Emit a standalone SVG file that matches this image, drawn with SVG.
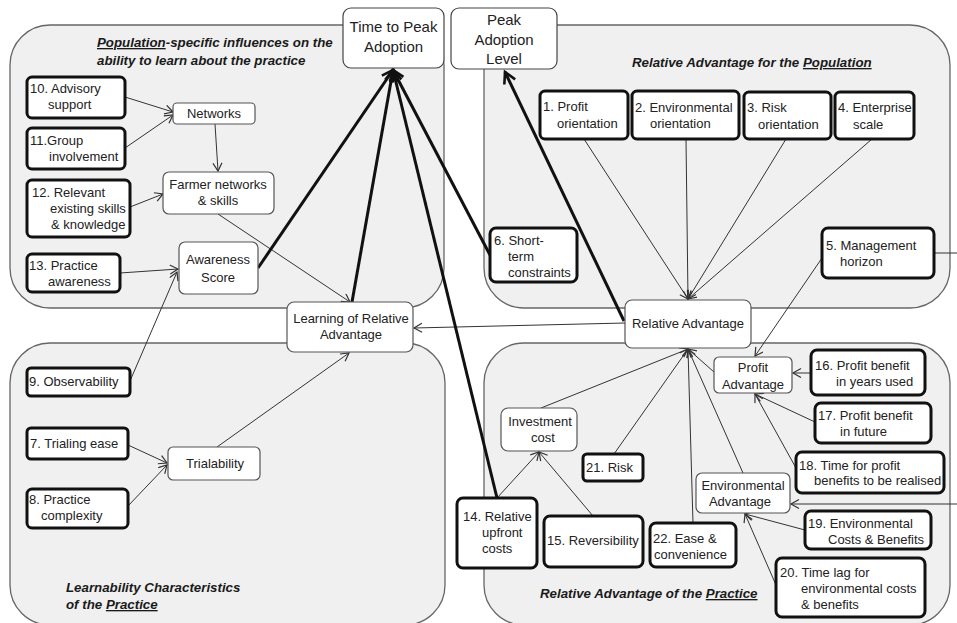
<svg xmlns="http://www.w3.org/2000/svg" width="957" height="623" viewBox="0 0 957 623">
<defs>
<style>
.panel{fill:#f0f0f0;stroke:#666;stroke-width:1.3}
.thin rect{fill:#fff;stroke:#555;stroke-width:1.2}
.bold rect{fill:#fff;stroke:#111;stroke-width:3}
.title rect{fill:#fff;stroke:#444;stroke-width:1.2}
text{font-family:"Liberation Sans",Arial,sans-serif;font-size:13px;fill:#222}
.c{text-anchor:middle}
.t{font-size:15px}
.h{font-weight:bold;font-style:italic;font-size:13.3px;fill:#1a1a1a}
.u{text-decoration:underline}
.ln{stroke:#333;stroke-width:1;fill:none}
.tk{stroke:#111;stroke-width:3;fill:none}
</style>
<marker id="a" markerUnits="userSpaceOnUse" markerWidth="12" markerHeight="12" refX="9" refY="5" orient="auto">
<path d="M1,0.5 L9,5 L1,9.5" fill="none" stroke="#333" stroke-width="1.2"/>
</marker>
<marker id="b" markerUnits="userSpaceOnUse" markerWidth="16" markerHeight="16" refX="12" refY="7" orient="auto">
<path d="M1,1 L12,7 L1,13" fill="none" stroke="#111" stroke-width="2.6"/>
</marker>
</defs>
<rect width="957" height="623" fill="#fff"/>
<g id="panels">
<rect class="panel" x="10" y="25" width="434" height="283" rx="40"/>
<rect class="panel" x="484" y="25" width="466" height="283" rx="40"/>
<rect class="panel" x="10" y="343" width="435" height="282" rx="40"/>
<rect class="panel" x="484" y="343" width="466" height="282" rx="40"/>
<text class="h" x="97" y="47"><tspan class="u">Population</tspan>-specific influences on the</text>
<text class="h" x="97" y="65">ability to learn about the practice</text>
<text class="h" x="632" y="67">Relative Advantage for the <tspan class="u">Population</tspan></text>
<text class="h" x="66" y="592">Learnability Characteristics</text>
<text class="h" x="66" y="609">of the <tspan class="u">Practice</tspan></text>
<text class="h" x="540" y="598">Relative Advantage of the <tspan class="u">Practice</tspan></text>
</g>
<g id="connectors">
<line class="ln" x1="125" y1="97" x2="173" y2="112" marker-end="url(#a)"/>
<line class="ln" x1="125" y1="148" x2="173" y2="115" marker-end="url(#a)"/>
<line class="ln" x1="215" y1="124" x2="218" y2="171" marker-end="url(#a)"/>
<line class="ln" x1="130" y1="207" x2="163" y2="194" marker-end="url(#a)"/>
<line class="ln" x1="120" y1="273" x2="178" y2="269" marker-end="url(#a)"/>
<line class="ln" x1="130" y1="381" x2="177" y2="272" marker-end="url(#a)"/>
<line class="ln" x1="218" y1="214" x2="350" y2="302" marker-end="url(#a)"/>
<line class="ln" x1="217" y1="447" x2="349" y2="353" marker-end="url(#a)"/>
<line class="ln" x1="128" y1="445" x2="167" y2="463" marker-end="url(#a)"/>
<line class="ln" x1="128" y1="506" x2="167" y2="465" marker-end="url(#a)"/>
<line class="ln" x1="625" y1="323" x2="414" y2="328" marker-end="url(#a)"/>
<line class="ln" x1="584" y1="139" x2="688" y2="299" marker-end="url(#a)"/>
<line class="ln" x1="686" y1="139" x2="688" y2="299" marker-end="url(#a)"/>
<line class="ln" x1="786" y1="139" x2="688" y2="299" marker-end="url(#a)"/>
<line class="ln" x1="872" y1="139" x2="688" y2="299" marker-end="url(#a)"/>
<line class="ln" x1="822" y1="258" x2="755" y2="356" marker-end="url(#a)"/>
<line class="ln" x1="934" y1="253" x2="957" y2="253"/>
<line class="ln" x1="714" y1="372" x2="688" y2="349" marker-end="url(#a)"/>
<line class="ln" x1="541" y1="408" x2="688" y2="349" marker-end="url(#a)"/>
<line class="ln" x1="614" y1="454" x2="688" y2="349" marker-end="url(#a)"/>
<line class="ln" x1="693" y1="523" x2="688" y2="349" marker-end="url(#a)"/>
<line class="ln" x1="743" y1="473" x2="688" y2="349" marker-end="url(#a)"/>
<line class="ln" x1="811" y1="373" x2="793" y2="373" marker-end="url(#a)"/>
<line class="ln" x1="815" y1="422" x2="755" y2="394" marker-end="url(#a)"/>
<line class="ln" x1="796" y1="468" x2="755" y2="394" marker-end="url(#a)"/>
<line class="ln" x1="805" y1="530" x2="745" y2="514" marker-end="url(#a)"/>
<line class="ln" x1="776" y1="585" x2="745" y2="514" marker-end="url(#a)"/>
<line class="ln" x1="957" y1="504" x2="791" y2="504" marker-end="url(#a)"/>
<line class="ln" x1="497" y1="498" x2="539" y2="452" marker-end="url(#a)"/>
<line class="ln" x1="593" y1="516" x2="539" y2="452" marker-end="url(#a)"/>
<line class="tk" x1="258" y1="268" x2="393" y2="70" marker-end="url(#b)"/>
<line class="tk" x1="352" y1="302" x2="393" y2="70" marker-end="url(#b)"/>
<line class="tk" x1="497" y1="498" x2="393" y2="70" marker-end="url(#b)"/>
<line class="tk" x1="490" y1="255" x2="393" y2="70" marker-end="url(#b)"/>
<line class="tk" x1="624" y1="321" x2="505" y2="72" marker-end="url(#b)"/>
</g>
<g id="time-to-peak" class="title"><rect x="343" y="8" width="101" height="60" rx="8"/><text class="c t" x="393.5" y="32">Time to Peak</text><text class="c t" x="393.5" y="52">Adoption</text></g>
<g id="peak-level" class="title"><rect x="451" y="8" width="106" height="61" rx="8"/><text class="c t" x="504" y="25">Peak</text><text class="c t" x="504" y="45">Adoption</text><text class="c t" x="504" y="64">Level</text></g>
<g id="networks" class="thin"><rect x="173" y="103" width="82" height="21" rx="4"/><text class="c" x="214" y="118">Networks</text></g>
<g id="farmer" class="thin"><rect x="163" y="172" width="111" height="42" rx="6"/><text class="c" x="218" y="189">Farmer networks</text><text class="c" x="218" y="205">&amp; skills</text></g>
<g id="awareness" class="thin"><rect x="179" y="242" width="79" height="52" rx="6"/><text class="c" x="218" y="264">Awareness</text><text class="c" x="218" y="282">Score</text></g>
<g id="learning" class="thin"><rect x="287" y="302" width="126" height="50" rx="7"/><text class="c" x="351" y="323">Learning of Relative</text><text class="c" x="351" y="339">Advantage</text></g>
<g id="trialability" class="thin"><rect x="168" y="447" width="92" height="33" rx="5"/><text class="c" x="215" y="468">Trialability</text></g>
<g id="relative-advantage" class="thin"><rect x="625" y="300" width="126" height="48" rx="7"/><text class="c" x="688" y="328">Relative Advantage</text></g>
<g id="profit-advantage" class="thin"><rect x="714" y="357" width="78" height="36" rx="5"/><text class="c" x="753" y="372">Profit</text><text class="c" x="753" y="389">Advantage</text></g>
<g id="env-advantage" class="thin"><rect x="696" y="473" width="94" height="40" rx="6"/><text class="c" x="743" y="490">Environmental</text><text class="c" x="740" y="506">Advantage</text></g>
<g id="investment" class="thin"><rect x="501" y="408" width="76" height="43" rx="7"/><text class="c" x="540" y="426">Investment</text><text class="c" x="543" y="442">cost</text></g>
<g id="n10" class="bold"><rect x="27" y="77" width="98" height="41" rx="5"/><text x="30" y="93">10. Advisory</text><text x="48" y="109">support</text></g>
<g id="n11" class="bold"><rect x="27" y="128" width="98" height="41" rx="5"/><text x="30" y="145">11.Group</text><text x="49" y="161">involvement</text></g>
<g id="n12" class="bold"><rect x="27" y="180" width="103" height="57" rx="5"/><text x="32" y="197">12. Relevant</text><text x="50" y="213">existing skills</text><text x="51" y="229">&amp; knowledge</text></g>
<g id="n13" class="bold"><rect x="27" y="254" width="93" height="38" rx="5"/><text x="29" y="270">13. Practice</text><text x="48" y="286">awareness</text></g>
<g id="n9" class="bold"><rect x="27" y="368" width="103" height="28" rx="4"/><text x="29" y="386">9. Observability</text></g>
<g id="n7" class="bold"><rect x="27" y="428" width="101" height="31" rx="4"/><text x="30" y="448">7. Trialing ease</text></g>
<g id="n8" class="bold"><rect x="27" y="489" width="101" height="39" rx="5"/><text x="29" y="504">8. Practice</text><text x="41" y="520">complexity</text></g>
<g id="n1" class="bold"><rect x="540" y="91" width="88" height="48" rx="5"/><text x="543" y="111">1. Profit</text><text x="557" y="128">orientation</text></g>
<g id="n2" class="bold"><rect x="632" y="91" width="107" height="48" rx="5"/><text x="635" y="112">2. Environmental</text><text x="650" y="128">orientation</text></g>
<g id="n3" class="bold"><rect x="744" y="92" width="87" height="47" rx="5"/><text x="747" y="112">3. Risk</text><text x="758" y="129">orientation</text></g>
<g id="n4" class="bold"><rect x="835" y="92" width="79" height="47" rx="5"/><text x="838" y="112">4. Enterprise</text><text x="853" y="129">scale</text></g>
<g id="n5" class="bold"><rect x="822" y="228" width="112" height="50" rx="6"/><text x="826" y="250">5. Management</text><text x="840" y="266">horizon</text></g>
<g id="n6" class="bold"><rect x="490" y="228" width="87" height="54" rx="6"/><text x="494" y="245">6. Short-</text><text x="508" y="261">term</text><text x="508" y="277">constraints</text></g>
<g id="n16" class="bold"><rect x="811" y="350" width="114" height="45" rx="6"/><text x="815" y="370">16. Profit benefit</text><text x="836" y="386">in years used</text></g>
<g id="n17" class="bold"><rect x="815" y="403" width="116" height="40" rx="6"/><text x="818" y="420">17. Profit benefit</text><text x="840" y="436">in future</text></g>
<g id="n18" class="bold"><rect x="796" y="452" width="148" height="41" rx="6"/><text x="799" y="470">18. Time for profit</text><text x="814" y="485">benefits to be realised</text></g>
<g id="n19" class="bold"><rect x="805" y="511" width="126" height="38" rx="6"/><text x="808" y="528">19. Environmental</text><text x="828" y="544">Costs &amp; Benefits</text></g>
<g id="n20" class="bold"><rect x="776" y="558" width="149" height="59" rx="6"/><text x="780" y="577">20. Time lag for</text><text x="801" y="593">environmental costs</text><text x="801" y="609">&amp; benefits</text></g>
<g id="n21" class="bold"><rect x="583" y="454" width="60" height="27" rx="4"/><text x="586" y="472">21. Risk</text></g>
<g id="n14" class="bold"><rect x="457" y="498" width="80" height="70" rx="6"/><text x="463" y="521">14. Relative</text><text x="482" y="537">upfront</text><text x="482" y="553">costs</text></g>
<g id="n15" class="bold"><rect x="544" y="516" width="99" height="51" rx="6"/><text x="547" y="545">15. Reversibility</text></g>
<g id="n22" class="bold"><rect x="650" y="523" width="86" height="44" rx="6"/><text x="653" y="543">22. Ease &amp;</text><text x="654" y="559">convenience</text></g>
</svg>
